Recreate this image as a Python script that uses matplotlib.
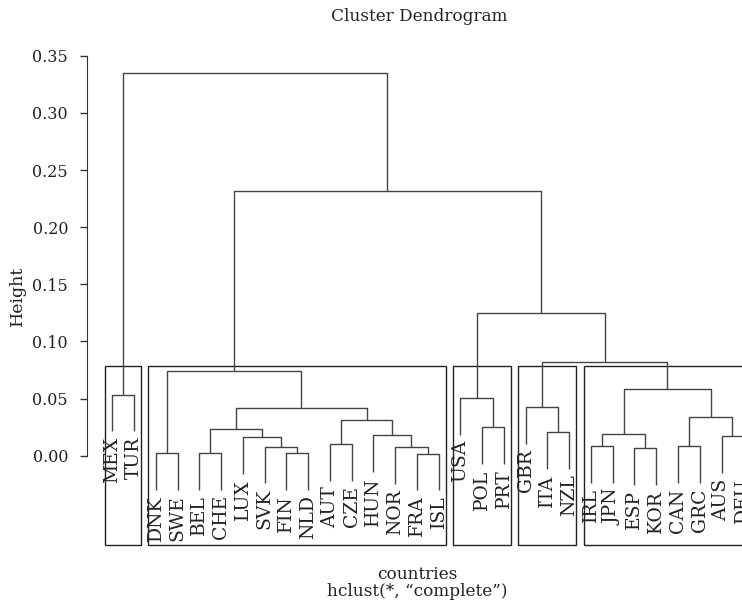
import matplotlib
matplotlib.use('Agg')
import matplotlib.pyplot as plt
from matplotlib.patches import Rectangle

plt.rcParams['font.family'] = ['DejaVu Serif']

# leaf order as drawn
countries = ['MEX', 'TUR', 'DNK', 'SWE', 'BEL', 'CHE', 'LUX', 'SVK', 'FIN', 'NLD',
             'AUT', 'CZE', 'HUN', 'NOR', 'FRA', 'ISL', 'USA', 'POL', 'PRT', 'GBR',
             'ITA', 'NZL', 'IRL', 'JPN', 'ESP', 'KOR', 'CAN', 'GRC', 'AUS', 'DEU']

# merges, R style: a string is a leaf, an int is an earlier merge (1-based)
merge_left = ['FRA', 'DNK', 'BEL', 'FIN', 'ESP', 'NOR', 'SVK', 'IRL', 'CAN', 'AUT',
              'LUX', 'AUS', 'HUN', 8, 'ITA', 3, 'POL', 10, 9, 16,
              'GBR', 'USA', 'MEX', 14, 2, 21, 22, 25, 23]
merge_right = ['ISL', 'SWE', 'CHE', 'NLD', 'KOR', 1, 4, 'JPN', 'GRC', 'CZE',
               7, 'DEU', 6, 5, 'NZL', 11, 'PRT', 13, 12, 18,
               15, 17, 'TUR', 19, 20, 24, 26, 27, 28]
merge_height = [0.0018, 0.0023, 0.0023, 0.0023, 0.0067, 0.0073, 0.0079, 0.0082, 0.0082, 0.0099,
                0.0160, 0.0169, 0.0181, 0.0190, 0.0204, 0.0233, 0.0248, 0.0312, 0.0335, 0.0417,
                0.0423, 0.0504, 0.0534, 0.0583, 0.0744, 0.0817, 0.1249, 0.2313, 0.3348]

n_clusters = 5
hang = 0.096
y_ticks = [0.00, 0.05, 0.10, 0.15, 0.20, 0.25, 0.30, 0.35]

W, H = 742, 606
fig = plt.figure(figsize=(W / 100, H / 100), dpi=100)
n = len(countries)
ext = 0.04 * (n - 1)
# plot region in pixels (right side runs off the picture, as in the reference)
left_px, right_px = 87.0, 768.5
top_px, bottom_px = 54.6, 544.8
ax = fig.add_axes([left_px / W, 1 - bottom_px / H,
                   (right_px - left_px) / W, (bottom_px - top_px) / H])
ax.set_xlim(1 - ext, n + ext)
ymin = -0.078
ax.set_ylim(ymin, 0.351)

leaf_x = {c: i + 1 for i, c in enumerate(countries)}
drop = hang * (max(merge_height) - min(merge_height))
line_col = '#444444'

node_x = []
leaf_bottom = {}


def child_pos(c, h):
    if isinstance(c, str):
        leaf_bottom[c] = h - drop
        return leaf_x[c], h - drop
    return node_x[c - 1], merge_height[c - 1]


for l, r, h in zip(merge_left, merge_right, merge_height):
    xl, yl = child_pos(l, h)
    xr, yr = child_pos(r, h)
    ax.plot([xl, xl, xr, xr], [yl, h, h, yr], color=line_col, lw=1.0,
            solid_capstyle='butt', clip_on=False)
    node_x.append((xl + xr) / 2)

for c in countries:
    ax.annotate(c, (leaf_x[c], leaf_bottom[c]), xytext=(0, -4),
                textcoords='offset points', rotation=90, ha='center', va='top',
                fontsize=13.5, color='#222222', annotation_clip=False)


# clusters for the boxes: cut the top k-1 merges
def members(c):
    if isinstance(c, str):
        return [c]
    return members(merge_left[c - 1]) + members(merge_right[c - 1])


order = sorted(range(len(merge_height)), key=lambda i: merge_height[i], reverse=True)
top_merges = set(order[:n_clusters - 1])
groups = []
for i in top_merges:
    for c in (merge_left[i], merge_right[i]):
        if isinstance(c, str) or (c - 1) not in top_merges:
            groups.append(members(c))
box_top = (merge_height[order[n_clusters - 2]] + merge_height[order[n_clusters - 1]]) / 2
for g in groups:
    xs = [leaf_x[c] for c in g]
    x0, x1 = min(xs) - 0.34, max(xs) + 0.33
    ax.add_patch(Rectangle((x0, ymin), x1 - x0, box_top - ymin, fill=False,
                           edgecolor='#222222', lw=1.0, clip_on=False))

for s in ['top', 'right', 'bottom']:
    ax.spines[s].set_visible(False)
ax.spines['left'].set_bounds(0, 0.35)
ax.spines['left'].set_color('#333333')
ax.set_xticks([])
ax.set_yticks(y_ticks)
ax.set_yticklabels([f'{t:.2f}' for t in y_ticks])
ax.tick_params(axis='y', length=5.3, width=1, color='#333333', pad=8.3,
               labelsize=11.5, labelcolor='#222222')

fig.text(17.5 / W, 1 - 296 / H, 'Height', rotation=90, ha='center', va='center',
         fontsize=12.5, color='#222222')
fig.text(419.5 / W, 1 - 21 / H, 'Cluster Dendrogram', ha='center', va='baseline',
         fontsize=12.2, color='#222222')
fig.text(417 / W, 1 - 579 / H, 'countries', ha='center', va='baseline',
         fontsize=12.2, color='#222222')
fig.text(417 / W, 1 - 596.5 / H, 'hclust(*, “complete”)', ha='center', va='baseline',
         fontsize=12.2, color='#222222')

fig.savefig('out.png', dpi=100)
